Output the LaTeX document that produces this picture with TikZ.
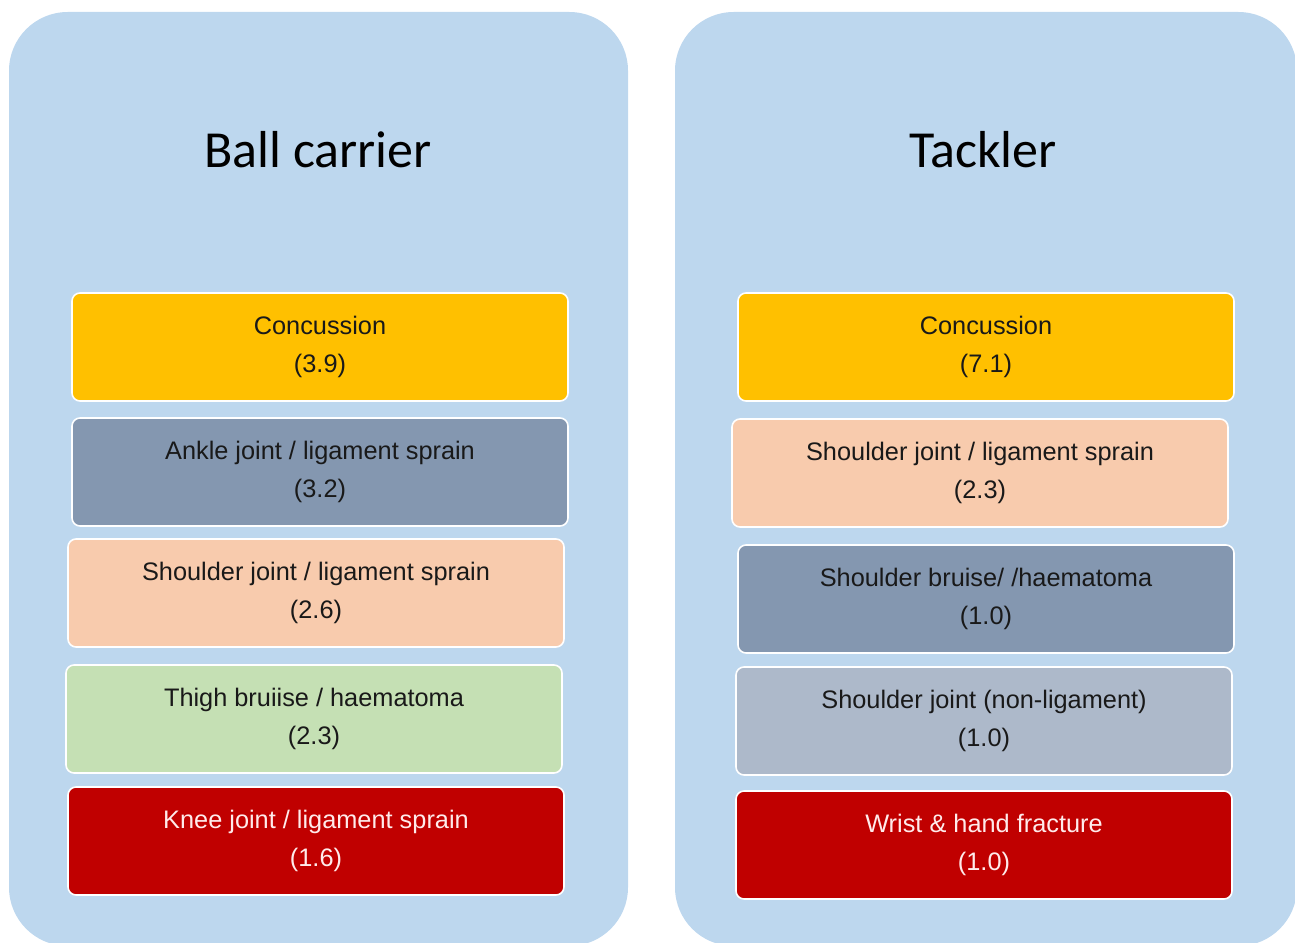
\documentclass[tikz,border=0pt]{standalone}
\usepackage{fontspec}
\setmainfont{Liberation Sans}
\newfontfamily\titlefont{Carlito}
\definecolor{panelblue}{HTML}{BDD7EE}
\definecolor{concyellow}{HTML}{FFC000}
\definecolor{slate}{HTML}{8497B0}
\definecolor{peach}{HTML}{F8CBAD}
\definecolor{palegreen}{HTML}{C5E0B4}
\definecolor{darkred}{HTML}{C00000}
\definecolor{lightslate}{HTML}{ADB9CA}
\tikzstyle{panel}=[fill=panelblue,rounded corners=44pt]
\tikzstyle{heading}=[font=\titlefont\fontsize{39}{46}\selectfont,text=black]
\tikzstyle{injury}=[draw=white,line width=1.2pt,rounded corners=6pt,minimum width=372pt,minimum height=81pt,align=center,inner sep=0pt,font=\fontsize{19}{28.5}\selectfont,text=black!90]

\begin{document}
\begin{tikzpicture}[x=0.75pt,y=-0.75pt]
    \useasboundingbox (0,0) rectangle (1295,942);
    \clip (0,0) rectangle (1295,942);
    \fill[panel] (9,12) rectangle (628,946);
    \fill[panel] (675,12) rectangle (1297,946);

    \node[heading] (tball) at (318,150) {Ball carrier};
    \node[heading] (ttack) at (983,150) {Tackler};

    % ball carrier
    \node[injury,fill=concyellow] (b1) at (320,347) {Concussion\\(3.9)};
    \node[injury,fill=slate] (b2) at (320,472) {Ankle joint / ligament sprain\\(3.2)};
    \node[injury,fill=peach] (b3) at (316,593) {Shoulder joint / ligament sprain\\(2.6)};
    \node[injury,fill=palegreen] (b4) at (314,719) {Thigh bruiise / haematoma\\(2.3)};
    \node[injury,fill=darkred,text=white!92!red] (b5) at (316,841) {Knee joint / ligament sprain\\(1.6)};

    % tackler
    \node[injury,fill=concyellow] (t1) at (986,347) {Concussion\\(7.1)};
    \node[injury,fill=peach] (t2) at (980,473) {Shoulder joint / ligament sprain\\(2.3)};
    \node[injury,fill=slate] (t3) at (986,599) {Shoulder bruise/ /haematoma\\(1.0)};
    \node[injury,fill=lightslate] (t4) at (984,721) {Shoulder joint (non-ligament)\\(1.0)};
    \node[injury,fill=darkred,text=white!92!red] (t5) at (984,845) {Wrist \& hand fracture\\(1.0)};
\end{tikzpicture}
\end{document}
